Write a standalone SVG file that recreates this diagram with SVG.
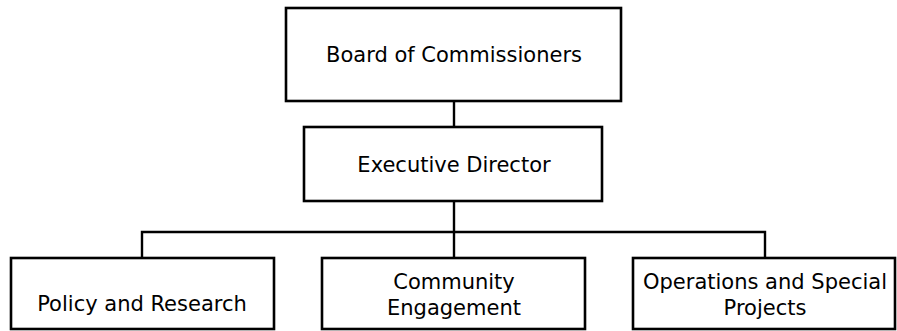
<svg xmlns="http://www.w3.org/2000/svg" width="897" height="331" viewBox="0 0 897 331">
<style>
.box{fill:#fff;stroke:#000;stroke-width:2.6}
.con{fill:none;stroke:#000;stroke-width:2.4}
text{font-family:"DejaVu Sans",Verdana,sans-serif;font-size:21px;fill:#000;text-anchor:middle}
</style>
<rect width="897" height="331" fill="#fff"/>
<g id="connectors">
<line class="con" x1="454" y1="101" x2="454" y2="127"/>
<line class="con" x1="454" y1="201" x2="454" y2="258"/>
<polyline class="con" points="142,258 142,232 765,232 765,258"/>
</g>
<g id="board">
<rect class="box" x="286" y="8" width="335" height="93"/>
<text x="454" y="62">Board of Commissioners</text>
</g>
<g id="executive">
<rect class="box" x="304" y="127" width="298" height="74"/>
<text x="454" y="172">Executive Director</text>
</g>
<g id="policy">
<rect class="box" x="11" y="258" width="263" height="71"/>
<text x="142" y="310.5">Policy and Research</text>
</g>
<g id="community">
<rect class="box" x="322" y="258" width="263" height="71"/>
<text x="454" y="288.5">Community</text>
<text x="454" y="315">Engagement</text>
</g>
<g id="operations">
<rect class="box" x="633" y="258" width="262" height="71"/>
<text x="765" y="288.5">Operations and Special</text>
<text x="765" y="315">Projects</text>
</g>
</svg>
